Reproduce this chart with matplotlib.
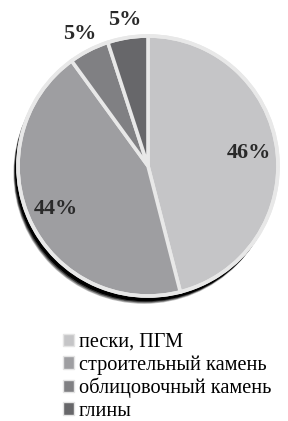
import numpy as np
import matplotlib.pyplot as plt
from matplotlib.patches import Circle, Patch

# data
categories = ["пески, ПГМ", "строительный камень", "облицовочный камень", "глины"]
shares = [46, 44, 5, 5]
colors = ["#c5c5c7", "#9e9ea1", "#808083", "#67676a"]

plt.rcParams['font.family'] = ['Liberation Serif', 'DejaVu Serif']

fig = plt.figure(figsize=(2.88, 4.21), dpi=100)
W, H = 288, 421
cx, cy, r = 148, 166, 130
ax = fig.add_axes([(cx - r) / W, (H - cy - r) / H, 2 * r / W, 2 * r / H])
ax.axis('off')

# shadow under the pie
for dx, dy, a in [(-0.03, -0.055, 0.25), (-0.025, -0.045, 0.5), (-0.018, -0.035, 1.0)]:
    ax.add_patch(Circle((dx, dy), 1.0, color='black', alpha=a, clip_on=False, zorder=0))

wedges, texts, autotexts = ax.pie(
    shares, colors=colors, startangle=90, counterclock=False,
    autopct='%d%%', pctdistance=0.78,
    wedgeprops=dict(edgecolor='#e8e8e8', linewidth=2.6),
    textprops=dict(fontsize=16, fontweight='bold', color='#2a2a2a'))
for w in wedges:
    w.set_clip_on(False)
    w.set_zorder(2)

# light rim round the pie
ax.add_patch(Circle((0, 0), 1.0, facecolor='none', edgecolor='#e8e8e8', linewidth=2.6,
                    clip_on=False, zorder=2.5))

# move the small labels outside the pie
for w, t, s in zip(wedges, autotexts, shares):
    t.set_clip_on(False)
    t.set_zorder(3)
    if s < 10:
        ang = np.deg2rad((w.theta1 + w.theta2) / 2)
        t.set_position((1.16 * np.cos(ang), 1.14 * np.sin(ang)))
ax.set_xlim(-1, 1)
ax.set_ylim(-1, 1)

handles = [Patch(facecolor=c, edgecolor='#e4e4e4', linewidth=1.0) for c in colors]
fig.legend(handles, categories, loc='upper left', bbox_to_anchor=(63 / W, 1 - 333 / H),
           frameon=False, fontsize=14.6, handlelength=0.55, handleheight=0.55,
           handletextpad=0.22, labelspacing=0.16, borderpad=0, borderaxespad=0)

fig.savefig('out.png', dpi=100)
